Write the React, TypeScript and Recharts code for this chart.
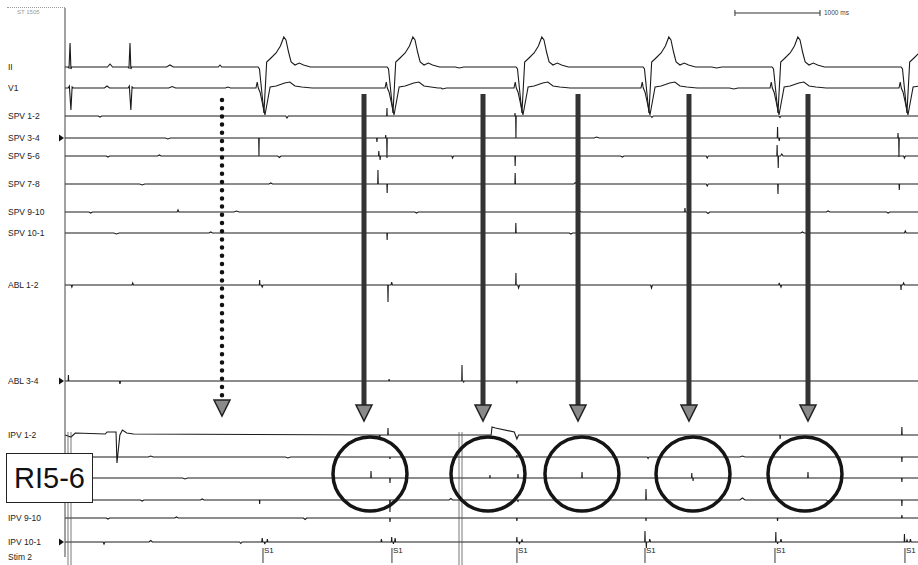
import { LineChart, Line, XAxis, YAxis, ReferenceLine, ReferenceDot } from "recharts";

type Ev = [number, number, number]; // time (s), deflection, half width (0 = raw point)

// recording window: 11:40:21.29 .. 11:40:31.24
const WINDOW_START_S = 21.29;
const WINDOW_LEN = 9.948;
const CLOCK_SECONDS = [22, 24, 26, 28, 30];

const channelNames = [
  "II", "V1", "SPV 1-2", "SPV 3-4", "SPV 5-6", "SPV 7-8", "SPV 9-10", "SPV 10-1",
  "ABL 1-2", "ABL 3-4", "IPV 1-2", "IPV 3-4", "IPV 5-6", "IPV 7-8", "IPV 9-10", "IPV 10-1", "Stim 2",
];
const channelLevels = [67, 88, 116, 138, 156, 184, 212, 233, 285, 381, 435, 457, 478, 500, 518, 542, 557];
const markedChannels = ["SPV 3-4", "ABL 3-4", "IPV 10-1"];
// labels hidden behind the RI5-6 box
const coveredLabels = ["IPV 3-4", "IPV 5-6", "IPV 7-8"];

const narrowBeats = [0.047, 0.746];
const pacedBeats = [2.262, 3.767, 5.271, 6.752, 8.257, 9.761];
const stimTimes = [2.309, 3.813, 5.271, 6.764, 8.28, 9.796];

const dottedArrow = 1.831;
const solidArrows = [3.487, 4.875, 5.983, 7.277, 8.665];
const circledSites = [3.557, 4.933, 6.029, 7.324, 8.63];

// surface lead shapes: [time from onset, deflection]
const narrowII = [[-0.012, 0], [0, -1], [0.012, 24], [0.022, -2], [0.032, 0]];
const narrowV1 = [[-0.01, 0], [0.004, 2], [0.022, -22], [0.036, 1], [0.05, 0]];
const pacedII = [
  [-0.01, 0], [0.006, -2], [0.058, -46], [0.09, 5], [0.14, 9], [0.2, 14], [0.25, 21], [0.29, 30],
  [0.315, 27], [0.345, 15], [0.375, 5], [0.42, 2], [0.47, 4], [0.52, 2], [0.6, 0],
];
const pacedV1 = [
  [-0.035, 0], [-0.02, 6], [-0.008, 0], [0.012, -4], [0.07, -27], [0.13, 1], [0.2, 2], [0.3, 5],
  [0.36, 6], [0.42, 2], [0.5, 1], [0.62, 0],
];

const iiExtra: Ev[] = [[0.525, 3, 0.03], [1.224, 2, 0.04], [1.808, 2, 0.02], [4.6, -1, 0.05], [7.6, -1, 0.06]];
const v1Extra: Ev[] = [[0.49, 2, 0.03], [1.25, 1.5, 0.04], [1.9, 1, 0.03], [4.4, -1, 0.05], [7.8, -1, 0.05]];

const spv12: Ev[] = [[0.408, -1, 0.02], [2.589, -2, 0.015], [3.755, 8, 0.003], [5.248, 3, 0.003], [5.259, -22, 0.003], [6.845, -1.5, 0.015], [8.338, -1.5, 0.012]];
const spv34: Ev[] = [[1.2, -1, 0.03], [2.262, -18, 0.003], [3.638, -4, 0.004], [3.74, 3, 0.003], [3.755, -20, 0.003], [6.2, 1, 0.03], [8.31, 11, 0.003], [8.33, -3, 0.006], [9.715, 5, 0.003], [9.726, -19, 0.003]];
const spv56: Ev[] = [[0.5, -1, 0.02], [1.1, 1, 0.02], [2.5, -1.5, 0.02], [3.66, 5, 0.004], [3.675, -4, 0.004], [4.52, -2, 0.01], [5.25, -10, 0.003], [6.5, -1, 0.02], [7.49, -2, 0.012], [8.305, 11, 0.003], [8.318, -12, 0.003], [8.36, 2, 0.015], [9.79, -2, 0.01]];
const spv78: Ev[] = [[0.9, -1, 0.03], [2.4, 1, 0.02], [3.65, 14, 0.003], [3.757, -9, 0.003], [5.25, 11, 0.003], [5.95, 1.5, 0.015], [7.49, -2, 0.012], [8.315, -10, 0.003], [9.73, -6, 0.003]];
const spv910: Ev[] = [[0.3, -1, 0.02], [1.318, 2, 0.01], [2.0, 1, 0.03], [4.1, -1, 0.02], [6.0, 1, 0.02], [7.23, 4, 0.004], [7.5, -1.5, 0.02], [8.9, 1, 0.02], [9.6, -1, 0.02]];
const spv101: Ev[] = [[0.6, -1, 0.03], [1.7, 1, 0.02], [3.757, -7, 0.003], [5.258, 10, 0.003], [5.9, -1, 0.02], [8.6, 1, 0.02], [9.8, 2, 0.01]];

const abl12: Ev[] = [[0.08, -2, 0.008], [0.79, 2, 0.008], [2.27, 5, 0.003], [2.3, -2, 0.01], [3.767, -17, 0.003], [3.81, 3, 0.008], [5.259, 12, 0.003], [5.29, -3, 0.01], [6.84, -3, 0.01], [8.33, 2, 0.006], [8.35, -2, 0.008], [9.75, -5, 0.003], [9.78, 2, 0.01]];
const abl34: Ev[] = [[0.04, 6, 0.003], [0.641, -3, 0.008], [3.78, 2, 0.004], [4.63, 16, 0.003], [4.65, -1, 0.006], [5.27, -1.5, 0.006]];

const ipv12: Ev[] = [
  [0.07, -2, 0], [0.12, 2, 0], [0.47, 1, 0], [0.49, 3, 0], [0.595, 3, 0], [0.606, -28, 0], [0.64, 0, 0],
  [0.67, 5, 0], [0.72, 2, 0], [0.8, 1, 0], [3.67, -4, 0.005], [3.767, 7, 0.003],
  [4.97, 0, 0], [4.98, 8, 0], [5.02, 7, 0], [5.24, 3, 0], [5.27, -4, 0], [5.29, 0, 0],
  [8.34, -4, 0.003], [9.76, 8, 0.003],
];
const ipv34: Ev[] = [[1.0, 1, 0.03], [2.6, -1, 0.03], [3.79, -2, 0.004], [5.27, 2, 0.004], [6.8, -1.5, 0.01], [7.9, 1, 0.03], [9.76, -5, 0.003]];
const ipv56: Ev[] = [[1.4, -1, 0.03], [3.569, 7, 0.003], [3.79, -5, 0.003], [4.956, 3, 0.003], [5.283, 4, 0.003], [6.03, 6, 0.003], [7.31, 5, 0.003], [7.325, -3, 0.003], [8.665, 6, 0.003], [9.76, -4, 0.003]];
const ipv78: Ev[] = [[0.9, -1, 0.02], [1.6, 1, 0.02], [2.27, -4, 0.003], [3.79, -12, 0.003], [4.5, 1.5, 0.02], [5.283, -2, 0.004], [6.776, 11, 0.003], [7.9, 2, 0.03], [8.9, -1.5, 0.02], [9.76, -6, 0.003]];
const ipv910: Ev[] = [[0.5, -1, 0.02], [1.3, 1, 0.02], [2.8, -1.5, 0.02], [3.79, -4, 0.003], [5.27, -3, 0.004], [6.776, -3, 0.003], [8.31, -3, 0.004], [9.76, 3, 0.004]];
const ipv101: Ev[] = [
  [0.455, -2, 0.01], [1.0, 1.5, 0.02], [2.05, -1.5, 0.015], [2.3, 4, 0.006], [2.33, -2, 0.006], [2.36, 3, 0.006],
  [3.69, 3, 0.006], [3.81, 5, 0.004], [3.83, -2, 0.004], [3.85, 4, 0.006], [5.27, 5, 0.004], [5.3, -2, 0.006],
  [5.33, 2, 0.008], [6.764, 11, 0.003], [6.78, -6, 0.003], [6.82, 3, 0.008], [8.29, 10, 0.003], [8.31, -2, 0.004],
  [8.35, 3, 0.008], [9.79, 8, 0.003], [9.82, 2, 0.008], [9.86, 3, 0.008],
];

const fromShape = (onsets: number[], shape: number[][]): Ev[] =>
  onsets.flatMap((o) => shape.map(([dt, a]) => [o + dt, a, 0] as Ev));

function trace(level: number, events: Ev[]) {
  const pts: [number, number][] = [];
  for (const [t, a, w] of events) {
    if (w > 0) pts.push([t - w, 0], [t, a], [t + w, 0]);
    else pts.push([t, a]);
  }
  pts.sort((p, q) => p[0] - q[0]);
  if (!pts.length || pts[0][0] > 0) pts.unshift([0, 0]);
  if (pts[pts.length - 1][0] < WINDOW_LEN) pts.push([WINDOW_LEN, 0]);
  return pts.map(([t, a]) => ({ t, v: level - a }));
}

const lvl = (name: string) => channelLevels[channelNames.indexOf(name)];

const traces = [
  { name: "II", data: trace(lvl("II"), [...fromShape(narrowBeats, narrowII), ...fromShape(pacedBeats, pacedII), ...iiExtra]) },
  { name: "V1", data: trace(lvl("V1"), [...fromShape(narrowBeats, narrowV1), ...fromShape(pacedBeats, pacedV1), ...v1Extra]) },
  { name: "SPV 1-2", data: trace(lvl("SPV 1-2"), spv12) },
  { name: "SPV 3-4", data: trace(lvl("SPV 3-4"), spv34) },
  { name: "SPV 5-6", data: trace(lvl("SPV 5-6"), spv56) },
  { name: "SPV 7-8", data: trace(lvl("SPV 7-8"), spv78) },
  { name: "SPV 9-10", data: trace(lvl("SPV 9-10"), spv910) },
  { name: "SPV 10-1", data: trace(lvl("SPV 10-1"), spv101) },
  { name: "ABL 1-2", data: trace(lvl("ABL 1-2"), abl12) },
  { name: "ABL 3-4", data: trace(lvl("ABL 3-4"), abl34) },
  { name: "IPV 1-2", data: trace(lvl("IPV 1-2"), ipv12) },
  { name: "IPV 3-4", data: trace(lvl("IPV 3-4"), ipv34) },
  { name: "IPV 5-6", data: trace(lvl("IPV 5-6"), ipv56) },
  { name: "IPV 7-8", data: trace(lvl("IPV 7-8"), ipv78) },
  { name: "IPV 9-10", data: trace(lvl("IPV 9-10"), ipv910) },
  { name: "IPV 10-1", data: trace(lvl("IPV 10-1"), ipv101) },
];

const FONT = "'Liberation Sans', Arial, sans-serif";

const labelTicks = channelLevels.filter((_, i) => !coveredLabels.includes(channelNames[i]));
const clockTicks = CLOCK_SECONDS.map((s) => +(s - WINDOW_START_S).toFixed(3));
const rulerTicks = Array.from({ length: 249 }, (_, i) => +(i * 0.04).toFixed(2));
const bottomTicks = [...Array.from({ length: 100 }, (_, i) => +(i * 0.1).toFixed(1)), ...clockTicks].sort((a, b) => a - b);

function ChannelTick(props: any) {
  const { y, payload } = props;
  const name = channelNames[channelLevels.indexOf(payload.value)];
  return (
    <g>
      <text x={8} y={y + 3} fontSize={8.5} fill="#222" fontFamily={FONT}>{name}</text>
      {markedChannels.includes(name) && <path d={`M59 ${y - 3.5} L64 ${y} L59 ${y + 3.5} Z`} fill="#111" />}
    </g>
  );
}

function TopTick(props: any) {
  const { x, payload } = props;
  const major = Math.abs(payload.value * 2 - Math.round(payload.value * 2)) < 1e-6;
  return <line x1={x} x2={x} y1={7} y2={major ? 12 : 9.5} stroke="#666" strokeWidth={0.7} />;
}

function BottomTick(props: any) {
  const { x, payload } = props;
  const i = clockTicks.indexOf(payload.value);
  if (i >= 0) {
    return (
      <text x={x} y={562} textAnchor="middle" fontSize={7.5} fill="#333" fontFamily={FONT}>
        {`11:40:${CLOCK_SECONDS[i]}`}
      </text>
    );
  }
  return <line x1={x} x2={x} y1={557} y2={560} stroke="#666" strokeWidth={0.7} />;
}

const arrowHead = (fill: string) => (p: any) => (
  <polygon points={`${p.cx - 8},${p.cy} ${p.cx + 8},${p.cy} ${p.cx},${p.cy + 16}`} fill={fill} stroke="#222" strokeWidth={1.5} />
);

const stimLabel = (p: any) => (
  <text x={p.cx + 1} y={p.cy} fontSize={8} fill="#222" fontFamily={FONT}>S1</text>
);

export default function App() {
  return (
    <div style={{ position: "absolute", left: 0, top: 0, width: 918, height: 565, background: "#fff", overflow: "hidden" }}>
      <div style={{ position: "absolute", left: 7, top: 7, width: 58, borderTop: "1px dotted #999" }} />
      <span style={{ position: "absolute", left: 17, top: 9, fontSize: 6, color: "#999", fontFamily: FONT }}>ST 1505</span>
      <span style={{ position: "absolute", left: 824, top: 9, fontSize: 6.5, color: "#444", fontFamily: FONT }}>1000 ms</span>
      <LineChart width={918} height={565} margin={{ top: 8, right: 0, bottom: 8, left: 0 }}>
        <XAxis
          dataKey="t"
          type="number"
          domain={[0, WINDOW_LEN]}
          allowDataOverflow
          ticks={bottomTicks}
          interval={0}
          height={0}
          tickSize={0}
          tickMargin={0}
          tick={<BottomTick />}
          axisLine={{ stroke: "#444" }}
        />
        <XAxis
          xAxisId="top"
          orientation="top"
          dataKey="t"
          type="number"
          domain={[0, WINDOW_LEN]}
          allowDataOverflow
          ticks={rulerTicks}
          interval={0}
          height={0}
          tickSize={0}
          tickMargin={0}
          tick={<TopTick />}
          axisLine={{ stroke: "#777", strokeDasharray: "1 1" }}
        />
        <YAxis
          type="number"
          domain={[8, 557]}
          reversed
          allowDataOverflow
          ticks={labelTicks}
          interval={0}
          width={65}
          tickLine={false}
          tick={<ChannelTick />}
          axisLine={{ stroke: "#444" }}
        />
        {traces.map((tr) => (
          <Line
            key={tr.name}
            name={tr.name}
            data={tr.data}
            dataKey="v"
            type="linear"
            dot={false}
            stroke="#1b1b1b"
            strokeWidth={1.1}
            isAnimationActive={false}
          />
        ))}
        {/* cursor lines */}
        {[0.035, 0.07, 4.595, 4.63].map((t) => (
          <ReferenceLine key={t} ifOverflow="visible" segment={[{ x: t, y: 432 }, { x: t, y: 565 }]} stroke="#555" strokeWidth={0.8} />
        ))}
        {/* scale bar */}
        <ReferenceLine segment={[{ x: 7.813, y: 13 }, { x: 8.805, y: 13 }]} stroke="#333" strokeWidth={1.2} />
        <ReferenceLine segment={[{ x: 7.813, y: 10 }, { x: 7.813, y: 16 }]} stroke="#333" />
        <ReferenceLine segment={[{ x: 8.805, y: 10 }, { x: 8.805, y: 16 }]} stroke="#333" />
        {/* stimulus markers */}
        {stimTimes.map((t) => (
          <ReferenceLine key={`s${t}`} ifOverflow="visible" segment={[{ x: t, y: 548 }, { x: t, y: 563 }]} stroke="#222" strokeWidth={0.9} />
        ))}
        {stimTimes.map((t) => (
          <ReferenceDot key={`sl${t}`} x={t} y={553} shape={stimLabel} />
        ))}
        {/* annotations */}
        <ReferenceLine
          segment={[{ x: dottedArrow, y: 100 }, { x: dottedArrow, y: 396 }]}
          stroke="#111"
          strokeWidth={4.5}
          strokeDasharray="0 8.2"
          strokeLinecap="round"
        />
        <ReferenceDot x={dottedArrow} y={400} shape={arrowHead("#8a8a8a")} />
        {solidArrows.map((t) => (
          <ReferenceLine key={`a${t}`} segment={[{ x: t, y: 94 }, { x: t, y: 406 }]} stroke="#333" strokeWidth={5} />
        ))}
        {solidArrows.map((t) => (
          <ReferenceDot key={`h${t}`} x={t} y={405} shape={arrowHead("#8a8a8a")} />
        ))}
        {circledSites.map((t) => (
          <ReferenceDot key={`c${t}`} x={t} y={474} r={37} fill="none" stroke="#151515" strokeWidth={3.5} />
        ))}
      </LineChart>
      <div
        style={{
          position: "absolute",
          left: 6,
          top: 453,
          width: 85,
          height: 48,
          border: "1px solid #222",
          background: "#fff",
          fontFamily: FONT,
          fontSize: 29,
          lineHeight: "48px",
          textAlign: "center",
          color: "#111",
        }}
      >
        RI5-6
      </div>
    </div>
  );
}
